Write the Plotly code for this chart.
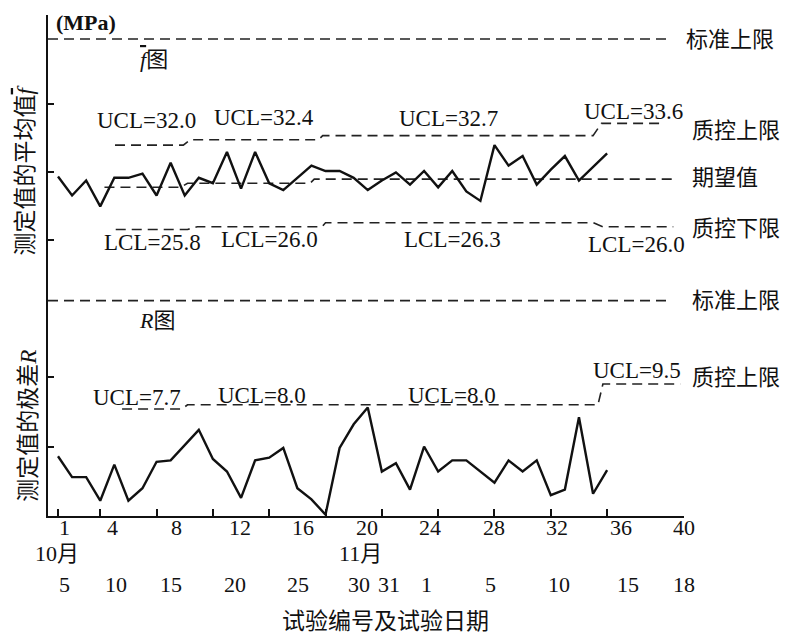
import plotly.graph_objects as go

# ---------------- data ----------------
tests = list(range(1, 41))
fbar = [29.7, 28.3, 29.4, 27.5, 29.6, 29.6, 29.9, 28.3, 30.7, 28.3,
        29.6, 29.2, 31.5, 28.8, 31.5, 29.2, 28.7, 29.6, 30.5, 30.1,
        30.1, 29.6, 28.7, 29.4, 30.0, 29.1, 30.1, 28.9, 30.1, 28.6,
        27.9, 32.0, 30.5, 31.2, 29.1, 30.2, 31.2, 29.4, 30.4, 31.4]
R = [4.3, 2.8, 2.8, 1.1, 3.7, 1.1, 2.0, 3.9, 4.0, 5.1,
     6.2, 4.1, 3.2, 1.3, 4.0, 4.2, 4.9, 2.0, 1.2, 0.1,
     4.9, 6.6, 7.8, 3.2, 3.8, 1.9, 5.0, 3.2, 4.0, 4.0,
     3.2, 2.4, 4.0, 3.2, 4.0, 1.5, 1.9, 7.1, 1.6, 3.3]

# control limits (step lines) for f-bar chart
ucl_f_x = [5.05, 9.9, 10.4, 19.5, 19.8, 39.0, 39.6, 44.0]
ucl_f = [32.0, 32.0, 32.4, 32.4, 32.7, 32.7, 33.6, 33.6]
cl_f_x = [4.3, 9.7, 10.2, 18.9, 19.2, 44.7]
cl_f = [28.9, 28.9, 29.2, 29.2, 29.5, 29.5]
lcl_f_x = [5.1, 10.2, 10.9, 19.75, 20.0, 39.0, 39.7, 44.7]
lcl_f = [25.8, 25.8, 26.0, 26.0, 26.3, 26.3, 26.0, 26.0]
std_x = [0.29, 44.25]
std_f = 39.8

# control limits for R chart
ucl_r_x = [5.55, 9.8, 10.2, 39.35, 39.7, 45.2]
ucl_r = [7.7, 7.7, 8.0, 8.0, 9.5, 9.5]
std_r = 15.5

ucl_f_labels = ["UCL=32.0", "UCL=32.4", "UCL=32.7", "UCL=33.6"]
lcl_f_labels = ["LCL=25.8", "LCL=26.0", "LCL=26.3", "LCL=26.0"]
ucl_r_labels = ["UCL=7.7", "UCL=8.0", "UCL=8.0", "UCL=9.5"]

tick_nums = [1, 4, 8, 12, 16, 20, 24, 28, 32, 36, 40]
month_labels = ["10月", "11月"]
date_labels = ["5", "10", "15", "20", "25", "30", "31", "1", "5", "10", "15", "18"]

# ---------------- style ----------------
SERIF = "Liberation Serif, Noto Sans CJK SC, serif"
INK = "#111111"
DASH = "10px,6px"
FS = 22
FBAR = '<span style="text-decoration:overline"><i>f</i></span>'

fig = go.Figure()


def dashed(x, y, yaxis):
    fig.add_trace(go.Scatter(x=x, y=y, mode="lines", xaxis="x", yaxis=yaxis,
                             line=dict(color="#222222", width=1.6, dash=DASH),
                             hoverinfo="skip", showlegend=False))


dashed(std_x, [std_f, std_f], "y")
dashed(ucl_f_x, ucl_f, "y")
dashed(cl_f_x, cl_f, "y")
dashed(lcl_f_x, lcl_f, "y")
dashed(std_x, [std_r, std_r], "y2")
dashed(ucl_r_x, ucl_r, "y2")

fig.add_trace(go.Scatter(x=tests, y=fbar, mode="lines", xaxis="x", yaxis="y",
                         line=dict(color=INK, width=2.4), showlegend=False))
fig.add_trace(go.Scatter(x=tests, y=R, mode="lines", xaxis="x", yaxis="y2",
                         line=dict(color=INK, width=2.4), showlegend=False))
# carrier for the label axis
fig.add_trace(go.Scatter(x=[None], y=[None], xaxis="x2", yaxis="y2",
                         showlegend=False, hoverinfo="skip"))

ann = []


def txt(text, x, y, xref, yref, size=FS, xanchor="left", **kw):
    ann.append(dict(text=text, x=x, y=y, xref=xref, yref=yref, showarrow=False,
                    xanchor=xanchor, yanchor="middle",
                    font=dict(family=SERIF, size=size, color=INK), **kw))


# limit value labels
for t, (x, y) in zip(ucl_f_labels, [(3.6, 33.85), (11.95, 34.07), (25.1, 33.93), (38.2, 34.46)]):
    txt(t, x, y, "x", "y", size=23)
for t, (x, y) in zip(lcl_f_labels, [(4.15, 24.86), (12.45, 25.03), (25.4, 25.1), (38.5, 24.66)]):
    txt(t, x, y, "x", "y", size=23)
for t, (x, y) in zip(ucl_r_labels, [(3.35, 8.55), (12.25, 8.65), (25.7, 8.65), (38.85, 10.5)]):
    txt(t, x, y, "x", "y2", size=23)

# right side legends
txt("标准上限", 1.0, std_f, "paper", "y")
txt("质控上限", 1.01, 33.1, "paper", "y")
txt("期望值", 1.01, 29.6, "paper", "y")
txt("质控下限", 1.01, 25.9, "paper", "y")
txt("标准上限", 1.01, std_r, "paper", "y2")
txt("质控上限", 1.01, 9.93, "paper", "y2")

# panel titles
txt("<b>(MPa)</b>", 0.01, 1.0 - 8 / 501, "paper", "paper")
txt(FBAR + "图", 0.142, 38.3, "paper", "y")
txt("<i>R</i>图", 0.14, 14.1, "paper", "y2")

# y axis titles
txt("测定值的平均值" + FBAR, -0.036, 0.69, "paper", "paper", size=23,
    xanchor="center", textangle=-90)
txt("测定值的极差<i>R</i>", -0.03, 0.18, "paper", "paper", size=23,
    xanchor="center", textangle=-90)

# test-number labels, month and date rows
for v in tick_nums:
    txt(str(v), v, -0.022, "x2", "paper", xanchor="center")
for t, x in zip(month_labels, [0.5, 19.6]):
    txt(t, x, -0.074, "x2", "paper", xanchor="center")
for t, x in zip(date_labels, [1, 4.2, 7.7, 11.7, 15.7, 19.5, 21.4, 23.8, 27.8, 32.1, 36.5, 40]):
    txt(t, x, -0.136, "x2", "paper", xanchor="center")

txt("试验编号及试验日期", 0.53, -0.21, "paper", "paper", size=23, xanchor="center")

fig.update_layout(
    width=780, height=626,
    margin=dict(l=40, r=104, t=7, b=118),
    plot_bgcolor="white", paper_bgcolor="white",
    font=dict(family=SERIF, size=FS, color=INK),
    showlegend=False,
    annotations=ann,
    xaxis=dict(range=[0.29, 45.46], anchor="y2", tickvals=tick_nums,
               ticks="inside", ticklen=7, tickwidth=1.5, tickcolor=INK,
               showticklabels=False, showline=True, linewidth=2, linecolor=INK,
               showgrid=False, zeroline=False),
    xaxis2=dict(range=[-0.07, 40], overlaying="x", anchor="y2", side="bottom",
                showticklabels=False, ticks="", showline=False, showgrid=False,
                zeroline=False),
    yaxis=dict(domain=[0.491, 1], range=[22.82, 41.57], tickvals=[25, 30, 35],
               ticks="inside", ticklen=6, tickwidth=1.5, tickcolor=INK,
               showticklabels=False, showline=True, linewidth=2, linecolor=INK,
               showgrid=False, zeroline=False, anchor="x"),
    yaxis2=dict(domain=[0, 0.491], range=[0, 17.7], tickvals=[5, 10],
                ticks="inside", ticklen=6, tickwidth=1.5, tickcolor=INK,
                showticklabels=False, showline=True, linewidth=2, linecolor=INK,
                showgrid=False, zeroline=False, anchor="x"),
)

fig.write_html("out.html")
